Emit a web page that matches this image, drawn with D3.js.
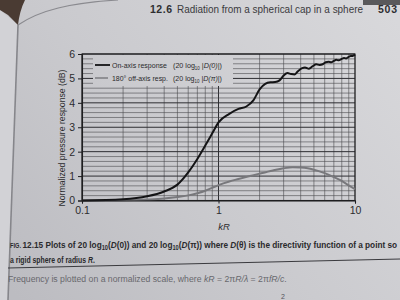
<!DOCTYPE html>
<html lang="en">
<head>
  <meta charset="UTF-8">
  <script src="https://d3js.org/d3.v7.min.js"></script>
  <style>
    body { margin: 0; background: #cbcbcf; overflow: hidden; }
    text { font-family: "Liberation Sans", Arial, sans-serif; }
    .grid line { stroke: #4a4a4e; stroke-width: 0.6; }
    .grid line.major { stroke: #2e2e32; stroke-width: 1; }
  </style>
</head>
<body>
  <script>
    // values
    const onAxisKR = [0.1, 0.2, 0.3, 0.4, 0.5, 0.6, 0.7, 0.8, 0.9, 1.0, 1.2, 1.4, 1.6, 1.8, 2.0, 2.2, 2.4, 2.6, 2.8, 3.0,
                      3.2, 3.4, 3.6, 3.8, 4.1, 4.3, 4.6, 4.9, 5.2, 5.5, 5.8, 6.1, 6.4, 6.7, 7.0, 7.3, 7.6, 8.0, 8.3, 8.6,
                      9.0, 9.3, 9.6, 10];
    const onAxisDB = [0.0, 0.05, 0.17, 0.37, 0.65, 1.15, 1.7, 2.25, 2.75, 3.2, 3.55, 3.75, 3.85, 4.1, 4.55, 4.78, 4.84, 4.85, 4.92, 5.12,
                      5.22, 5.18, 5.16, 5.28, 5.42, 5.45, 5.4, 5.5, 5.58, 5.55, 5.58, 5.66, 5.68, 5.66, 5.72, 5.76, 5.74, 5.8, 5.84, 5.82,
                      5.88, 5.92, 5.92, 5.96];
    const offAxisKR = [0.1, 0.2, 0.3, 0.4, 0.5, 0.6, 0.7, 0.8, 0.9, 1.0, 1.2, 1.4, 1.7, 2.0, 2.5, 3.0, 3.5, 4.0, 4.5, 5.0, 6.0, 7.0, 8.0, 9.0, 10];
    const offAxisDB = [0.0, 0.01, 0.04, 0.08, 0.14, 0.21, 0.3, 0.4, 0.52, 0.63, 0.78, 0.88, 1.0, 1.1, 1.23, 1.32, 1.36, 1.35, 1.32, 1.26, 1.12, 0.96, 0.8, 0.62, 0.46];
    const yTicks = [0, 1, 2, 3, 4, 5, 6];
    const xTicks = [0.1, 1, 10];
    const xTickLabels = ["0.1", "1", "10"];

    const W = 400, H = 300;
    const svg = d3.select("body").append("svg").attr("width", W).attr("height", H);

    // squeeze a text to a given width with a transform (keeps tspans together)
    function fitWidth(sel, x, y, target) {
      const w = sel.node().getComputedTextLength();
      sel.attr("transform", `translate(${x},${y}) scale(${target / w},1)`);
    }

    const defs = svg.append("defs");
    const grad = defs.append("linearGradient").attr("id", "paper")
      .attr("gradientUnits", "userSpaceOnUse")
      .attr("x1", 380).attr("y1", 0).attr("x2", 20).attr("y2", 300);
    grad.append("stop").attr("offset", 0).attr("stop-color", "#d8d8db");
    grad.append("stop").attr("offset", 0.55).attr("stop-color", "#cacace");
    grad.append("stop").attr("offset", 1).attr("stop-color", "#bcbcc1");

    svg.append("rect").attr("width", W).attr("height", H).attr("fill", "url(#paper)");

    // book bits: left page, gutter, dark corners
    svg.append("path").attr("d", "M0,10 L18,25 C16,100 12,200 8,300 L0,300 Z").attr("fill", "#d2d2d6");
    svg.append("path").attr("d", "M18,25 C16,100 12,200 8,300").attr("fill", "none").attr("stroke", "#86868b").attr("stroke-width", 1.6);
    svg.append("path").attr("d", "M18,25 C40,10 70,3 118,0").attr("fill", "none").attr("stroke", "#8a8a8f").attr("stroke-width", 1.2);
    svg.append("path").attr("d", "M0,0 L25,0 C21,8 19,16 18,25 L8,15 L0,10 Z").attr("fill", "#4a3b33");
    svg.append("rect").attr("x", 363).attr("y", 0).attr("width", 37).attr("height", 5).attr("fill", "#59595b");

    // running head
    svg.append("text").attr("x", 150).attr("y", 13).attr("font-size", 10.5).attr("font-weight", "bold")
      .attr("fill", "#2e2e30").attr("textLength", 22).text("12.6");
    svg.append("text").attr("x", 177).attr("y", 13).attr("font-size", 10.5).attr("fill", "#3a3a3c")
      .attr("textLength", 186).attr("lengthAdjust", "spacingAndGlyphs").text("Radiation from a spherical cap in a sphere");
    svg.append("text").attr("x", 378).attr("y", 13).attr("font-size", 10.5).attr("font-weight", "bold")
      .attr("fill", "#2e2e30").attr("textLength", 19).text("503");

    // chart
    const x = d3.scaleLog().domain([0.1, 10]).range([82, 355]);
    const y = d3.scaleLinear().domain([0, 6]).range([200.5, 54]);

    const grid = svg.append("g").attr("class", "grid");
    grid.selectAll("line.v").data(x.ticks()).join("line")
      .attr("class", d => (d === 1 ? "v major" : "v"))
      .attr("x1", d => x(d)).attr("x2", d => x(d))
      .attr("y1", y(0)).attr("y2", y(6));
    grid.selectAll("line.h").data(y.ticks(30)).join("line")
      .attr("class", d => (Math.abs(d - Math.round(d)) < 1e-6 ? "h major" : "h"))
      .attr("x1", x(0.1)).attr("x2", x(10))
      .attr("y1", d => y(d)).attr("y2", d => y(d));

    // legend box hides the grid
    svg.append("rect").attr("x", 93).attr("y", 55).attr("width", 140).attr("height", 31).attr("fill", "url(#paper)");

    svg.append("rect").attr("x", x(0.1)).attr("y", y(6))
      .attr("width", x(10) - x(0.1)).attr("height", y(0) - y(6))
      .attr("fill", "none").attr("stroke", "#1e1e20").attr("stroke-width", 1.1);

    const line = d3.line().x(d => x(d[0])).y(d => y(d[1])).curve(d3.curveMonotoneX);
    svg.append("path").datum(d3.zip(offAxisKR, offAxisDB)).attr("d", line)
      .attr("fill", "none").attr("stroke", "#78787c").attr("stroke-width", 2);
    svg.append("path").datum(d3.zip(onAxisKR, onAxisDB)).attr("d", line)
      .attr("fill", "none").attr("stroke", "#141416").attr("stroke-width", 2);

    const yAxis = svg.append("g").attr("transform", `translate(${x(0.1)},0)`)
      .call(d3.axisLeft(y).tickValues(yTicks).tickFormat(d3.format("d")).tickSize(4).tickPadding(3));
    const xAxis = svg.append("g").attr("transform", `translate(0,${y(0)})`)
      .call(d3.axisBottom(x).tickValues(xTicks).tickFormat((d, i) => xTickLabels[i]).tickSize(3).tickPadding(3));
    [yAxis, xAxis].forEach(a => {
      a.select(".domain").attr("stroke", "#1e1e20").attr("stroke-width", 1.1);
      a.selectAll(".tick line").attr("stroke", "#1e1e20");
      a.selectAll("text").attr("font-family", "'Liberation Sans', Arial, sans-serif")
        .attr("font-size", 10.5).attr("fill", "#2c2c2e");
    });

    svg.append("text").attr("x", 224).attr("y", 230).attr("text-anchor", "middle")
      .attr("font-size", 9.5).attr("font-style", "italic").attr("fill", "#2c2c2e").text("kR");

    svg.append("text").attr("transform", "translate(65,138) rotate(-90)").attr("text-anchor", "middle")
      .attr("font-size", 9).attr("fill", "#2c2c2e")
      .attr("textLength", 137).attr("lengthAdjust", "spacingAndGlyphs")
      .text("Normalized pressure response (dB)");

    // legend
    const legendRows = [
      { label: "On-axis response", arg: "D(0)", color: "#141416", y: 65, w: 15, lw: 55 },
      { label: "180\u00b0 off-axis resp.", arg: "D(\u03c0)", color: "#78787c", y: 78, w: 13, lw: 56 }
    ];
    const lg = svg.append("g");
    legendRows.forEach(r => {
      lg.append("line").attr("x1", 95).attr("x2", 95 + r.w).attr("y1", r.y).attr("y2", r.y)
        .attr("stroke", r.color).attr("stroke-width", r.color === "#141416" ? 1.8 : 1.4);
      const l = lg.append("text").attr("font-size", 8).attr("fill", "#2a2a2c").text(r.label);
      fitWidth(l, 112, r.y + 3, r.lw);
      const t = lg.append("text").attr("font-size", 8)
        .attr("font-family", "'Liberation Serif', serif").attr("fill", "#2a2a2c");
      t.append("tspan").text("(20 log");
      t.append("tspan").attr("font-size", 5).attr("dy", 1.5).text("10");
      t.append("tspan").attr("dy", -1.5).text(" |");
      t.append("tspan").attr("font-style", "italic").text(r.arg);
      t.append("tspan").text("|)");
      fitWidth(t, 173, r.y + 3, 49);
    });

    // caption
    const capFont = "'Liberation Sans Narrow', 'Liberation Sans', Arial, sans-serif";
    const cap = svg.append("text").attr("font-size", 9.5)
      .attr("font-weight", "bold").attr("fill", "#2a2a2c").attr("font-family", capFont);
    cap.append("tspan").attr("font-size", 6.5).text("FIG. ");
    cap.append("tspan").text("12.15 Plots of 20 log");
    cap.append("tspan").attr("font-size", 6.5).attr("dy", 1.5).text("10");
    cap.append("tspan").attr("dy", -1.5).text("(");
    cap.append("tspan").attr("font-style", "italic").text("D");
    cap.append("tspan").text("(0)) and 20 log");
    cap.append("tspan").attr("font-size", 6.5).attr("dy", 1.5).text("10");
    cap.append("tspan").attr("dy", -1.5).text("(");
    cap.append("tspan").attr("font-style", "italic").text("D");
    cap.append("tspan").text("(\u03c0)) where ");
    cap.append("tspan").attr("font-style", "italic").text("D");
    cap.append("tspan").text("(\u03b8) is the directivity function of a point so");
    fitWidth(cap, 10, 248, 388);

    const cap2 = svg.append("text").attr("font-size", 9.5)
      .attr("font-weight", "bold").attr("fill", "#2a2a2c").attr("font-family", capFont);
    cap2.append("tspan").text("a rigid sphere of radius ");
    cap2.append("tspan").attr("font-style", "italic").text("R");
    cap2.append("tspan").text(".");
    fitWidth(cap2, 10, 263, 85);

    svg.append("line").attr("x1", 8).attr("y1", 268).attr("x2", 400).attr("y2", 259)
      .attr("stroke", "#3a3a3e").attr("stroke-width", 1);

    const fr = svg.append("text").attr("font-size", 9.5).attr("fill", "#68686d");
    fr.append("tspan").text("Frequency is plotted on a normalized scale, where ");
    fr.append("tspan").attr("font-style", "italic").text("kR");
    fr.append("tspan").text(" = 2\u03c0");
    fr.append("tspan").attr("font-style", "italic").text("R/\u03bb");
    fr.append("tspan").text(" = 2\u03c0");
    fr.append("tspan").attr("font-style", "italic").text("fR/c");
    fr.append("tspan").text(".");
    fitWidth(fr, 8, 282, 279);

    svg.append("text").attr("x", 281).attr("y", 299).attr("font-size", 7).attr("fill", "#55555a").text("2");
  </script>
</body>
</html>
